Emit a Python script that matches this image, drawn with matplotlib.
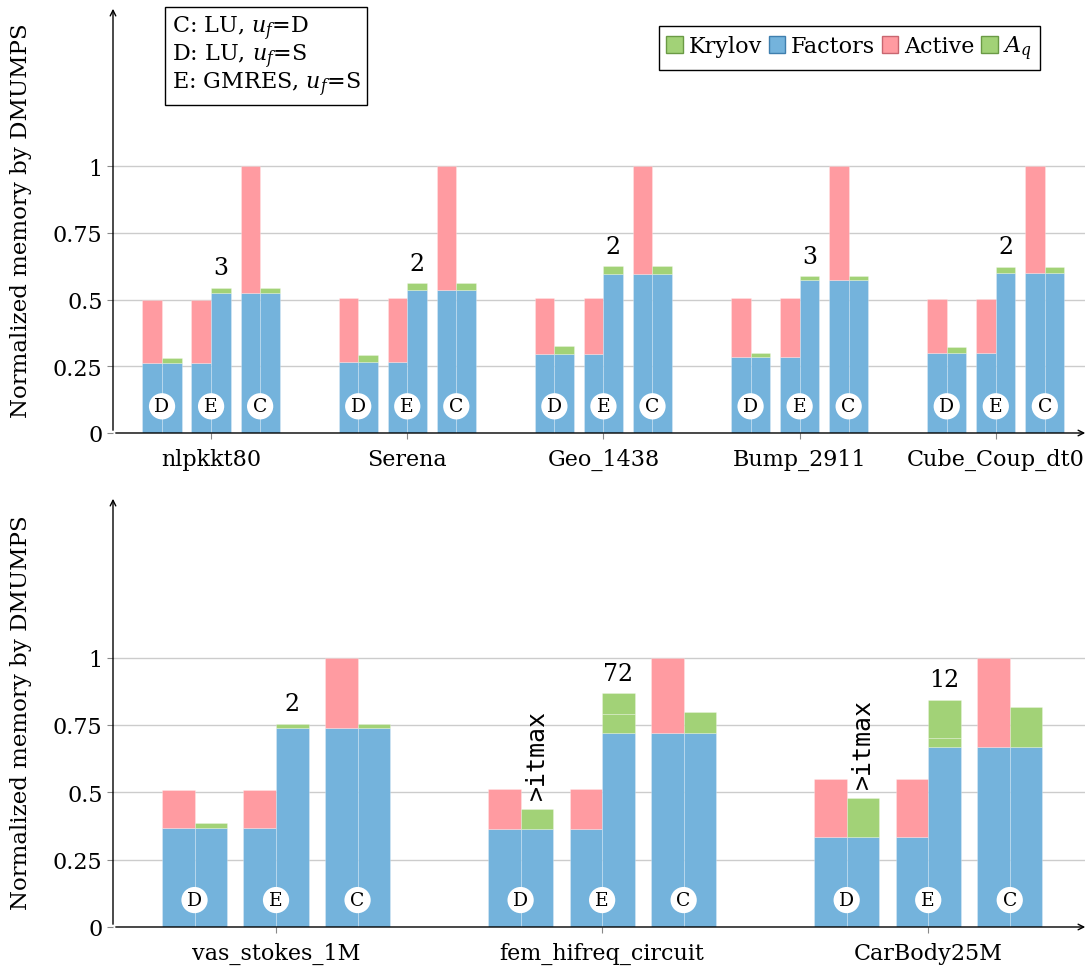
import matplotlib
matplotlib.use('Agg')
import matplotlib.pyplot as plt
from matplotlib.patches import Patch
import numpy as np

plt.rcParams['font.family'] = 'DejaVu Serif'
plt.rcParams['mathtext.fontset'] = 'dejavuserif'

BLUE = '#74b3dc'
RED = '#ff9ba1'
GREEN = '#a2d277'

# top panel (levels, normalized by DMUMPS)
top_names = ['nlpkkt80', 'Serena', 'Geo_1438', 'Bump_2911', 'Cube_Coup_dt0']
top_fac_s = [0.262, 0.267, 0.297, 0.286, 0.300]      # factors, single precision
top_act_s = [0.500, 0.506, 0.506, 0.504, 0.503]      # factors + active (D, E)
top_d_green = [0.280, 0.292, 0.327, 0.300, 0.321]    # D right half top
top_fac_d = [0.525, 0.536, 0.595, 0.573, 0.600]      # factors, double precision
top_e_aq = [0.525, 0.536, 0.595, 0.573, 0.600]       # E right half, A_q top
top_e_green = [0.544, 0.562, 0.626, 0.588, 0.623]    # E right half top
top_c_green = [0.544, 0.562, 0.626, 0.588, 0.623]    # C right half top
top_iters = ['3', '2', '2', '3', '2']
top_itmax = [False, False, False, False, False]

# bottom panel
bot_names = ['vas_stokes_1M', 'fem_hifreq_circuit', 'CarBody25M']
bot_fac_s = [0.369, 0.362, 0.335]
bot_act_s = [0.507, 0.511, 0.551]
bot_d_green = [0.385, 0.438, 0.479]
bot_fac_d = [0.739, 0.721, 0.669]
bot_e_aq = [0.739, 0.790, 0.700]
bot_e_green = [0.755, 0.867, 0.844]
bot_c_green = [0.755, 0.800, 0.815]
bot_iters = ['2', '72', '12']
bot_itmax = [False, True, True]


def stack(ax, x, levels, colors):
    # draw a half bar from a list of cumulative levels
    bottom = 0
    for top, c in zip(levels, colors):
        if top > bottom:
            ax.bar(x, top - bottom, width=0.1, bottom=bottom, color=c,
                   edgecolor=(1, 1, 1, 0.25), linewidth=0.7, zorder=2)
        bottom = top


def draw_panel(ax, names, fac_s, act_s, d_green, fac_d, e_aq, e_green,
               c_green, iters, itmax, xmax):
    x = np.arange(len(names))
    for i in range(len(names)):
        # D: LU single
        stack(ax, x[i] - 0.30, [fac_s[i], act_s[i]], [BLUE, RED])
        stack(ax, x[i] - 0.20, [fac_s[i], d_green[i]], [BLUE, GREEN])
        # E: GMRES single
        stack(ax, x[i] - 0.05, [fac_s[i], act_s[i]], [BLUE, RED])
        stack(ax, x[i] + 0.05, [fac_d[i], e_aq[i], e_green[i]], [BLUE, GREEN, GREEN])
        # C: LU double
        stack(ax, x[i] + 0.20, [fac_d[i], 1.0], [BLUE, RED])
        stack(ax, x[i] + 0.30, [fac_d[i], c_green[i]], [BLUE, GREEN])

        for off, lab in zip([-0.25, 0, 0.25], ['D', 'E', 'C']):
            ax.text(x[i] + off, 0.1, lab, ha='center', va='center', fontsize=13.5,
                    zorder=4, bbox=dict(boxstyle='circle,pad=0.22', fc='white', ec='none'))

        ax.annotate(iters[i], (x[i] + 0.05, e_green[i]), xytext=(0, 6),
                    textcoords='offset points', ha='center', va='bottom', fontsize=17)
        if itmax[i]:
            ax.annotate('>itmax', (x[i] - 0.20, d_green[i]), xytext=(0, 7),
                        textcoords='offset points', ha='center', va='bottom',
                        rotation=90, fontsize=18, family='DejaVu Sans Mono')

    ax.set_xlim(-0.5, xmax)
    ax.set_ylim(0, 1.6)
    ax.set_xticks(x, names)
    ax.set_yticks([0, 0.25, 0.5, 0.75, 1], ['0', '0.25', '0.5', '0.75', '1'])
    ax.tick_params(axis='both', labelsize=16, length=4, color='#888888')
    ax.tick_params(axis='x', pad=7)
    ax.yaxis.grid(True, color='#cccccc', linewidth=1)
    ax.set_axisbelow(True)
    for s in ax.spines.values():
        s.set_visible(False)
    ax.annotate('', xy=(1.0, 0), xytext=(0, 0), xycoords='axes fraction',
                arrowprops=dict(arrowstyle='->', lw=1, color='black'))
    ax.annotate('', xy=(0, 1.0), xytext=(0, 0), xycoords='axes fraction',
                arrowprops=dict(arrowstyle='->', lw=1, color='black'))
    ax.set_ylabel('Normalized memory by DMUMPS', fontsize=16.5)
    ax.yaxis.set_label_coords(-0.083, 0.5)


fig = plt.figure(figsize=(10.85, 9.70), dpi=100)
ax1 = fig.add_axes([113 / 1085, 1 - 434 / 970, 975 / 1085, 427 / 970])
ax2 = fig.add_axes([113 / 1085, 1 - 928 / 970, 975 / 1085, 431 / 970])

draw_panel(ax1, top_names, top_fac_s, top_act_s, top_d_green, top_fac_d,
           top_e_aq, top_e_green, top_c_green, top_iters, top_itmax, 4.47)
draw_panel(ax2, bot_names, bot_fac_s, bot_act_s, bot_d_green, bot_fac_d,
           bot_e_aq, bot_e_green, bot_c_green, bot_iters, bot_itmax, 2.49)

handles = [Patch(fc=GREEN, ec='#6a9a45'), Patch(fc=BLUE, ec='#3f7fae'),
           Patch(fc=RED, ec='#c86670'), Patch(fc=GREEN, ec='#6a9a45')]
fig.legend(handles, ['Krylov', 'Factors', 'Active', '$A_q$'], loc='upper right',
           bbox_to_anchor=(1040 / 1085, 1 - 27 / 970), ncol=4, fontsize=16,
           fancybox=False, edgecolor='black', framealpha=1,
           handlelength=0.75, handleheight=0.75, handletextpad=0.25,
           columnspacing=0.3, borderpad=0.35, borderaxespad=0)

fig.text(172 / 1085, 1 - 15 / 970, 'C: LU, $u_f$=D\nD: LU, $u_f$=S\nE: GMRES, $u_f$=S',
         ha='left', va='top', fontsize=16, linespacing=1.0,
         bbox=dict(boxstyle='square,pad=0.3', fc='white', ec='black', lw=1))

fig.savefig('out.png', dpi=100)
